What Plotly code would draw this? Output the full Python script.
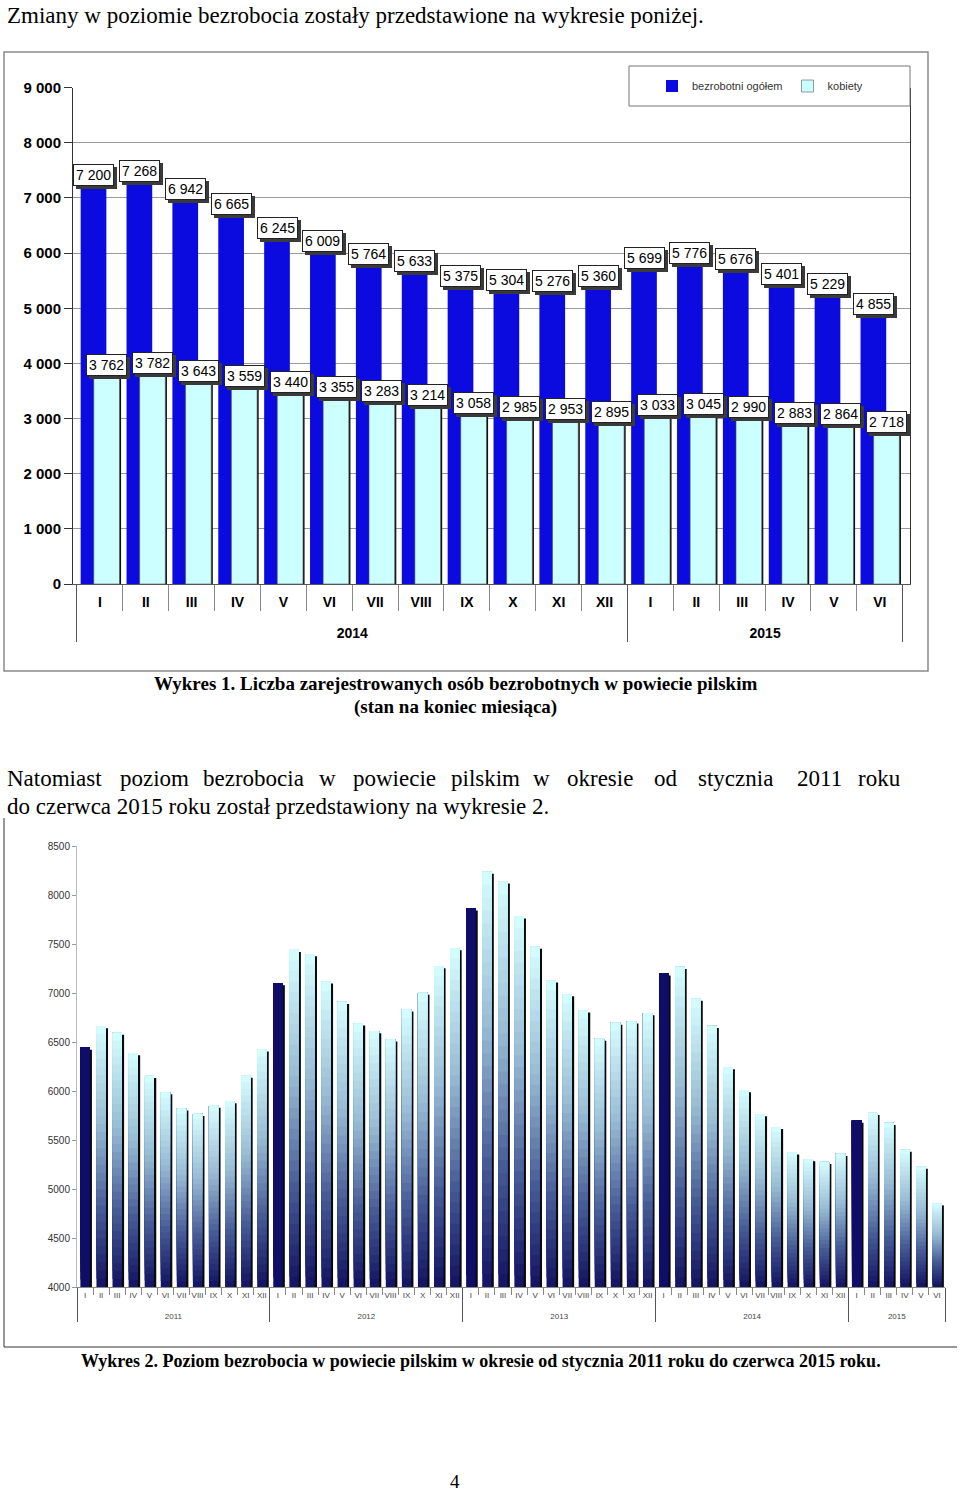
import plotly.graph_objects as go

# ---------------- data ----------------
MONTHS = ["I", "II", "III", "IV", "V", "VI", "VII", "VIII", "IX", "X", "XI", "XII"]

# Chart 1 (2014 - VI 2015)
top_years = ["2014"] * 12 + ["2015"] * 6
top_months = MONTHS + MONTHS[:6]
total_unemployed = [7200, 7268, 6942, 6665, 6245, 6009, 5764, 5633, 5375, 5304, 5276, 5360,
                    5699, 5776, 5676, 5401, 5229, 4855]
women_unemployed = [3762, 3782, 3643, 3559, 3440, 3355, 3283, 3214, 3058, 2985, 2953, 2895,
                    3033, 3045, 2990, 2883, 2864, 2718]
top_yticks = [0, 1000, 2000, 3000, 4000, 5000, 6000, 7000, 8000, 9000]

# Chart 2 (I 2011 - VI 2015)
bottom_years = ["2011"] * 12 + ["2012"] * 12 + ["2013"] * 12 + ["2014"] * 12 + ["2015"] * 6
bottom_months = MONTHS * 4 + MONTHS[:6]
bottom_values = [6443, 6663, 6595, 6388, 6154, 5988, 5822, 5768, 5852, 5897, 6158, 6426,
                 7101, 7440, 7396, 7118, 6911, 6690, 6612, 6528, 6833, 7003, 7274, 7457,
                 7864, 8238, 8139, 7783, 7474, 7128, 6989, 6823, 6534, 6697, 6711, 6796,
                 7200, 7268, 6942, 6665, 6245, 6009, 5764, 5633, 5375, 5304, 5276, 5360,
                 5699, 5776, 5676, 5401, 5229, 4855]
bottom_yticks = [4000, 4500, 5000, 5500, 6000, 6500, 7000, 7500, 8000, 8500]
bottom_grid = [4500, 5000, 5500, 6000, 6500, 7000, 7500, 8000]

# ---------------- helpers ----------------
W, H = 960, 1494
SANS = "Liberation Sans"
SERIF = "Liberation Serif"


def px_x(p):
    return p / W


def px_y(p):
    return 1 - p / H


def fmt(v):
    return f"{v:,}".replace(",", " ")


STOPS = [(0.0, (18, 18, 98)), (0.3, (70, 92, 152)), (0.62, (150, 186, 212)), (1.0, (214, 255, 255))]


def grad(f):
    for (f0, c0), (f1, c1) in zip(STOPS[:-1], STOPS[1:]):
        if f0 <= f <= f1:
            t = (f - f0) / (f1 - f0)
            c = [round(a + (b - a) * t) for a, b in zip(c0, c1)]
            return f"rgb({c[0]},{c[1]},{c[2]})"
    return "rgb(214,255,255)"


fig = go.Figure()

# ---------------- chart 1 ----------------
xt = [["<br>" + y for y in top_years], top_months]
fig.add_trace(go.Bar(x=xt, y=total_unemployed, name="bezrobotni ogółem",
                     marker=dict(color="#0b0be0", line=dict(width=0)),
                     offset=-0.42, width=0.56, xaxis="x", yaxis="y", hoverinfo="skip"))
fig.add_trace(go.Bar(x=xt, y=women_unemployed, showlegend=False,
                     marker=dict(color="#111111", line=dict(width=0)),
                     offset=-0.134 + 0.035, width=0.56, xaxis="x", yaxis="y", hoverinfo="skip"))
fig.add_trace(go.Bar(x=xt, y=women_unemployed, name="kobiety",
                     marker=dict(color="#ccffff", line=dict(width=0.6, color="#555555")),
                     offset=-0.134, width=0.56, xaxis="x", yaxis="y", hoverinfo="skip"))

# ---------------- chart 2 ----------------
xb = [["<br>" + y for y in bottom_years], bottom_months]
fig.add_trace(go.Bar(x=xb, y=[v - 4000 - 22 for v in bottom_values], base=4000, showlegend=False,
                     marker=dict(color="#0a0a0a", line=dict(width=0)),
                     offset=-0.29 + 0.14, width=0.58, xaxis="x2", yaxis="y2", hoverinfo="skip"))
N = 32
for k in range(N):
    f = k / N
    bases = [4000 + (v - 4000) * f for v in bottom_values]
    heights = [v - b for v, b in zip(bottom_values, bases)]
    cols = ["rgb(14,14,104)" if m == "I" else grad((k + 0.5) / N) for m in bottom_months]
    fig.add_trace(go.Bar(x=xb, y=heights, base=bases, showlegend=False,
                         marker=dict(color=cols, line=dict(width=0)),
                         offset=-0.29, width=0.58, xaxis="x2", yaxis="y2", hoverinfo="skip"))

# ---------------- annotations ----------------
ann = []
lab_font = dict(family=SANS, size=14, color="black")


def label(xv, yv, text):
    ann.append(dict(x=xv, y=yv, xref="x", yref="y", text=text, showarrow=False,
                    yanchor="bottom", yshift=1 - 3, xshift=3,
                    font=dict(family=SANS, size=14, color="rgba(0,0,0,0)"),
                    bgcolor="#3a3a3a", bordercolor="#3a3a3a", borderwidth=1, borderpad=2))
    ann.append(dict(x=xv, y=yv, xref="x", yref="y", text=text, showarrow=False,
                    yanchor="bottom", yshift=1, font=lab_font,
                    bgcolor="white", bordercolor="#222", borderwidth=1, borderpad=2))


for i, v in enumerate(total_unemployed):
    label(i - 0.14, v, fmt(v))
for i, v in enumerate(women_unemployed):
    label(i + 0.146, v, fmt(v))

# page texts
ann.append(dict(x=px_x(5), y=px_y(15), xref="paper", yref="paper", xanchor="left", yanchor="middle",
                text="Zmiany w poziomie bezrobocia zostały przedstawione na wykresie poniżej.",
                showarrow=False, font=dict(family=SERIF, size=23, color="black")))
ann.append(dict(x=px_x(455), y=px_y(684), xref="paper", yref="paper", xanchor="center", yanchor="middle",
                text="<b>Wykres 1. Liczba zarejestrowanych osób bezrobotnych w powiecie pilskim</b>",
                showarrow=False, font=dict(family=SERIF, size=19, color="black")))
ann.append(dict(x=px_x(455), y=px_y(707), xref="paper", yref="paper", xanchor="center", yanchor="middle",
                text="<b>(stan na koniec miesiąca)</b>",
                showarrow=False, font=dict(family=SERIF, size=19, color="black")))
para_words = ["Natomiast", "poziom", "bezrobocia", "w", "powiecie", "pilskim", "w", "okresie", "od",
              "stycznia", "2011", "roku"]
para_x = [5, 118, 201, 317, 351, 449, 531, 565, 652, 696, 795, 856]
for w_, xx in zip(para_words, para_x):
    ann.append(dict(x=px_x(xx), y=px_y(778), xref="paper", yref="paper", xanchor="left", yanchor="middle",
                    text=w_, showarrow=False, font=dict(family=SERIF, size=23, color="black")))
ann.append(dict(x=px_x(5), y=px_y(806), xref="paper", yref="paper", xanchor="left", yanchor="middle",
                text="do czerwca 2015 roku został przedstawiony na wykresie 2.",
                showarrow=False, font=dict(family=SERIF, size=23, color="black")))
ann.append(dict(x=px_x(481), y=px_y(1361), xref="paper", yref="paper", xanchor="center", yanchor="middle",
                text="<b>Wykres 2. Poziom bezrobocia w powiecie pilskim w okresie od stycznia 2011 roku do czerwca 2015 roku.</b>",
                showarrow=False, font=dict(family=SERIF, size=18, color="black")))
ann.append(dict(x=px_x(455), y=px_y(1481), xref="paper", yref="paper", xanchor="center", yanchor="middle",
                text="4", showarrow=False, font=dict(family=SERIF, size=19, color="black")))

shapes = [
    # frame chart 1
    dict(type="rect", xref="paper", yref="paper", x0=px_x(4), x1=px_x(928), y0=px_y(671), y1=px_y(52),
         line=dict(color="#8a8a8a", width=1.5), layer="below"),
    # legend box
    dict(type="rect", xref="paper", yref="paper", x0=px_x(629), x1=px_x(910), y0=px_y(106), y1=px_y(66),
         line=dict(color="#777", width=1), fillcolor="white", layer="above"),
    # frame chart 2
    dict(type="line", xref="paper", yref="paper", x0=px_x(4), x1=px_x(4), y0=px_y(1347), y1=px_y(818),
         line=dict(color="#333", width=1)),
    dict(type="line", xref="paper", yref="paper", x0=px_x(4), x1=px_x(957), y0=px_y(1347), y1=px_y(1347),
         line=dict(color="#333", width=1)),
]

fig.update_layout(
    width=W, height=H, margin=dict(l=0, r=0, t=0, b=0, autoexpand=False),
    paper_bgcolor="white", plot_bgcolor="white",
    barmode="overlay", separators=", ",
    showlegend=True,
    legend=dict(orientation="h", x=px_x(652), y=px_y(86), xanchor="left", yanchor="middle",
                bgcolor="rgba(0,0,0,0)", font=dict(family=SANS, size=11, color="#333"),
                itemwidth=30, traceorder="normal"),
    annotations=ann, shapes=shapes,
    xaxis=dict(domain=[px_x(73), px_x(910)], anchor="y", type="multicategory",
               showline=True, linecolor="#555", ticks="outside", ticklen=26, tickcolor="#888",
               tickson="boundaries", showdividers=True, dividercolor="#555", dividerwidth=1,
               ticklabelstandoff=5,
               tickfont=dict(family=SANS, size=14, color="black", weight="bold"), showgrid=False),
    yaxis=dict(domain=[px_y(584), px_y(87.7)], anchor="x", range=[0, 9000], tickvals=top_yticks,
               tickformat=",d", showgrid=True, gridcolor="#9a9a9a", gridwidth=1,
               showline=True, linecolor="#333", mirror=True, ticks="outside", ticklen=8, tickcolor="#333",
               zeroline=False, tickfont=dict(family=SANS, size=15, color="black", weight="bold")),
    xaxis2=dict(domain=[px_x(77), px_x(945)], anchor="y2", type="multicategory",
                showline=True, linecolor="#888", ticks="outside", ticklen=7, tickcolor="#888",
                tickson="boundaries", showdividers=True, dividercolor="#555", dividerwidth=1,
                tickangle=0,
                tickfont=dict(family=SANS, size=8, color="#444"), showgrid=False),
    yaxis2=dict(domain=[px_y(1287), px_y(846)], anchor="x2", range=[4000, 8500], tickvals=bottom_yticks,
                tickformat="d", showgrid=False, showline=True, linecolor="#bbb", ticks="outside",
                ticklen=4, tickcolor="#999", zeroline=False,
                tickfont=dict(family=SANS, size=10, color="#333")),
    yaxis3=dict(overlaying="y2", anchor="x2", range=[4000, 8500], tickvals=bottom_grid,
                showgrid=True, gridcolor="#8c8c8c", gridwidth=1.2, showticklabels=False, ticks="",
                zeroline=False, showline=False),
)

fig.write_html("out.html", config={"displayModeBar": False},
               post_script="document.body.style.margin='0px';document.body.style.overflow='hidden';")
